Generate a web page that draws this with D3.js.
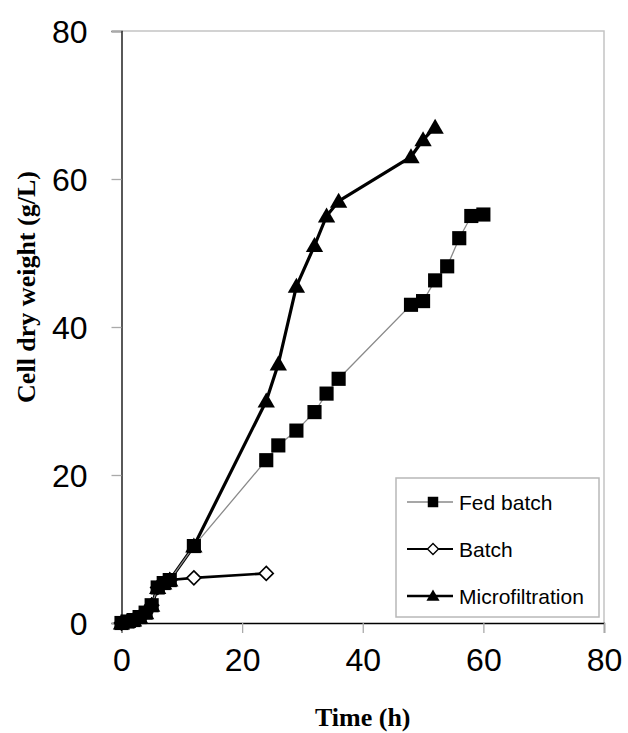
<!DOCTYPE html>
<html><head><meta charset="utf-8">
<script src="https://cdn.jsdelivr.net/npm/d3@7"></script>
<style>body{margin:0;background:#fff}svg{display:block}</style>
</head><body>
<svg id="c" width="628" height="733"></svg>
<script>
const fedTime = [0,1,2,3,4,5,6,7,8,12,24,26,29,32,34,36,48,50,52,54,56,58,60];
const fedValue = [0,0.2,0.4,0.8,1.4,2.4,4.8,5.4,5.8,10.4,22,24,26,28.5,31,33,43,43.5,46.3,48.2,52,55,55.2];
const batchTime = [0,1,2,3,4,5,6,7,8,12,24];
const batchValue = [0,0.2,0.4,0.8,1.4,2.4,4.8,5.4,5.8,6.1,6.7];
const mfTime = [0,1,2,3,4,5,6,7,8,12,24,26,29,32,34,36,48,50,52];
const mfValue = [0,0.2,0.4,0.8,1.4,2.4,4.8,5.4,5.8,10.4,30,35,45.5,51,55,57,63,65.3,67];
const xTicks = [0,20,40,60,80];
const yTicks = [0,20,40,60,80];
const seriesNames = ["Fed batch","Batch","Microfiltration"];

const svg = d3.select("#c");
const x = d3.scaleLinear().domain([0,80]).range([121.5,604]);
const y = d3.scaleLinear().domain([0,80]).range([623,31]);

// frame (top/right grey)
svg.append("path").attr("d",`M${x(0)},${y(80)}H${x(80)}V${y(0)}`)
  .attr("fill","none").attr("stroke","#c4c4c4").attr("stroke-width",1.5);

// axes
const xAxis = svg.append("g").attr("transform",`translate(0,${y(0)})`)
  .call(d3.axisBottom(x).tickValues(xTicks).tickSize(10).tickPadding(15).tickFormat(d3.format("d")));
const yAxis = svg.append("g").attr("transform",`translate(${x(0)},0)`)
  .call(d3.axisLeft(y).tickValues(yTicks).tickSize(10).tickPadding(24).tickFormat(d3.format("d")));
[xAxis,yAxis].forEach(a=>{
  a.select(".domain").attr("stroke","#000").attr("stroke-width",1.3);
  a.selectAll(".tick line").attr("stroke","#aaa").attr("stroke-width",1.3);
  a.selectAll(".tick text").attr("font-family","Liberation Sans, Arial, sans-serif")
    .attr("font-size",32).attr("fill","#000");
});
yAxis.selectAll(".tick text").attr("dy","0.36em");

// axis titles
svg.append("text").attr("x",x(40)).attr("y",726).attr("text-anchor","middle")
  .attr("font-family","Liberation Serif, Times New Roman, serif").attr("font-weight","bold")
  .attr("font-size",26).text("Time (h)");
svg.append("text").attr("transform",`translate(35,${287}) rotate(-90)`).attr("text-anchor","middle")
  .attr("font-family","Liberation Serif, Times New Roman, serif").attr("font-weight","bold")
  .attr("font-size",26).text("Cell dry weight (g/L)");

const line = d3.line().x(d=>x(d[0])).y(d=>y(d[1]));
const zip = (a,b)=>a.map((t,i)=>[t,b[i]]);
const fed = zip(fedTime,fedValue), batch = zip(batchTime,batchValue), mf = zip(mfTime,mfValue);

const triSym = d3.symbol().type(d3.symbolTriangle);
const sqSym = d3.symbol().type(d3.symbolSquare);
const dia = r => `M0,${-r}L${r},0L0,${r}L${-r},0Z`;

// microfiltration
svg.append("path").attr("d",line(mf)).attr("fill","none").attr("stroke","#000").attr("stroke-width",3.2).attr("stroke-linejoin","round");
svg.append("g").selectAll("path").data(mf).join("path")
  .attr("d",triSym.size(130)()).attr("transform",d=>`translate(${x(d[0])},${y(d[1])+1.5})`).attr("fill","#000");
// batch
svg.append("path").attr("d",line(batch)).attr("fill","none").attr("stroke","#000").attr("stroke-width",2.6).attr("stroke-linejoin","round");
svg.append("g").selectAll("path").data(batch).join("path")
  .attr("d",dia(7)).attr("transform",d=>`translate(${x(d[0])},${y(d[1])})`)
  .attr("fill","#fff").attr("stroke","#000").attr("stroke-width",1.6);
// fed batch
svg.append("path").attr("d",line(fed)).attr("fill","none").attr("stroke","#8a8a8a").attr("stroke-width",1.3);
svg.append("g").selectAll("path").data(fed).join("path")
  .attr("d",sqSym.size(200)()).attr("transform",d=>`translate(${x(d[0])},${y(d[1])})`).attr("fill","#000");

// legend
const lg = svg.append("g");
lg.append("rect").attr("x",396).attr("y",478).attr("width",203).attr("height",139)
  .attr("fill","#fff").attr("stroke","#b8b8b8").attr("stroke-width",1.5);
const rows = [502,549,596];
const styles = [
  {stroke:"#8a8a8a",w:1.3,sym:sqSym.size(110)(),fill:"#000",ms:null,dy:0},
  {stroke:"#000",w:2.2,sym:dia(5.5),fill:"#fff",ms:"#000",dy:0},
  {stroke:"#000",w:2.6,sym:triSym.size(75)(),fill:"#000",ms:null,dy:1}
];
seriesNames.forEach((n,i)=>{
  const s = styles[i];
  lg.append("line").attr("x1",407).attr("x2",453).attr("y1",rows[i]).attr("y2",rows[i])
    .attr("stroke",s.stroke).attr("stroke-width",s.w);
  lg.append("path").attr("d",s.sym).attr("transform",`translate(433,${rows[i]+s.dy})`)
    .attr("fill",s.fill).attr("stroke",s.ms||"none").attr("stroke-width",1.4);
  lg.append("text").attr("x",459).attr("y",rows[i]).attr("dy","0.36em")
    .attr("font-family","Liberation Sans, Arial, sans-serif").attr("font-size",21).text(n);
});
</script>
</body></html>
